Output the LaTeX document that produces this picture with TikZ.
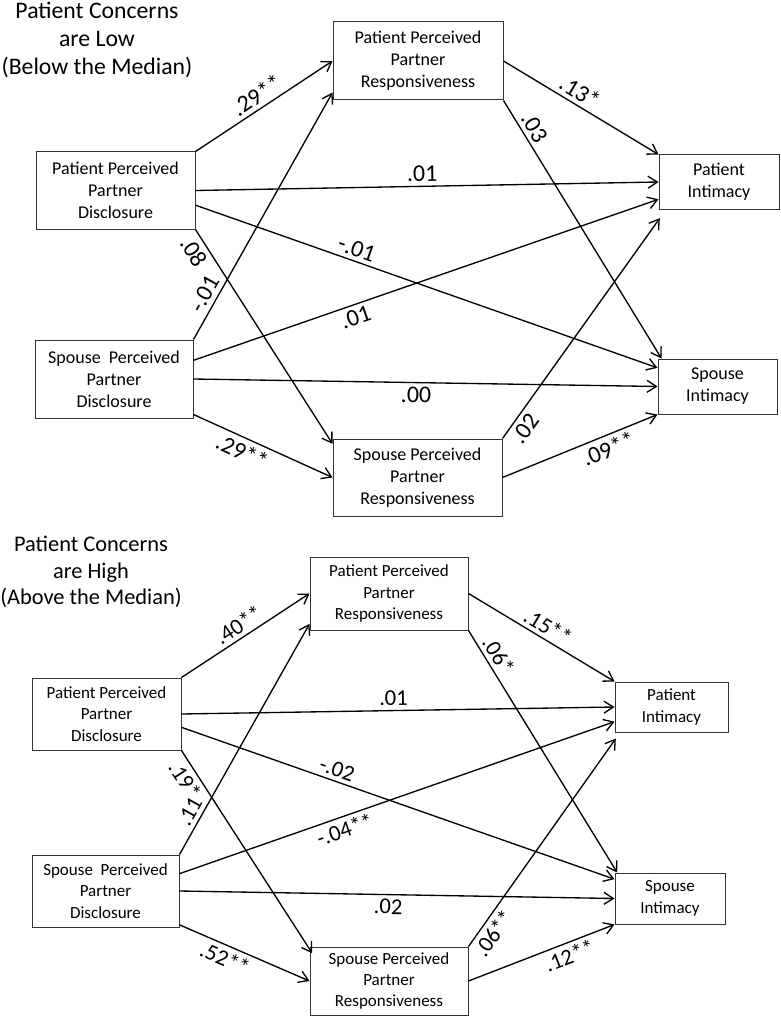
\documentclass[tikz,border=0pt]{standalone}
\usepackage{fontspec}
\setmainfont{Carlito}
\usetikzlibrary{arrows.meta}

\begin{document}
\begin{tikzpicture}[x=0.75pt,y=-0.75pt,
  box/.style={draw=black!80,line width=0.75pt,align=center,inner sep=0pt},
  topbox/.style={box,font=\fontsize{13.5}{16.5}\selectfont},
  lowbox/.style={box,font=\fontsize{12.75}{16}\selectfont},
  heading/.style={align=center,inner sep=0pt,font=\fontsize{17.8}{21}\selectfont},
  effect/.style={draw,line width=1pt,-{Straight Barb[length=7pt,width=9pt]}},
  coef/.style={sloped,inner sep=3pt,font=\fontsize{18}{18}\selectfont},
  coefb/.style={sloped,inner sep=3pt,font=\fontsize{17}{17}\selectfont}]
  \useasboundingbox (0,0) rectangle (781,1020);

  \node[heading] (lowtitle) at (97,40) {Patient Concerns\\are Low\\(Below the Median)};
  \node[topbox,minimum width=127.5pt,minimum height=58.5pt] (ppr1) at (418,61) {Patient Perceived\\Partner\\Responsiveness};
    \node[topbox,minimum width=119.25pt,minimum height=57.75pt] (ppd1) at (115.5,190.5) {Patient Perceived\\Partner\\Disclosure};
    \node[topbox,minimum width=90pt,minimum height=40.5pt] (pi1) at (719,182) {Patient\\Intimacy};
    \node[topbox,minimum width=118.5pt,minimum height=58.5pt] (spd1) at (114,379) {Spouse~~Perceived\\Partner\\Disclosure};
    \node[topbox,minimum width=126.75pt,minimum height=57.75pt] (spr1) at (417.5,477.5) {Spouse Perceived\\Partner\\Responsiveness};
    \node[topbox,minimum width=89.25pt,minimum height=41.25pt] (si1) at (717.5,386.5) {Spouse\\Intimacy};
    \draw[effect] (ppd1.north east) -- node[coef,above,pos=0.5] {.29**} (ppr1.west);
    \draw[effect] (spd1.north east) -- node[coef,above,pos=0.16] {-.01} ([yshift=6pt]ppr1.south west);
    \draw[effect] (ppd1.east) -- node[coef,above,pos=0.49] {.01} (pi1.west);
    \draw[effect] ([yshift=-11pt]ppd1.east) -- node[coef,above,pos=0.34] {-.01} ([yshift=-7pt]si1.north west);
    \draw[effect] (ppd1.south east) -- node[coef,below,pos=0.07] {.08} ([yshift=-4pt]spr1.north west);
    \draw[effect] ([yshift=14pt]spd1.east) -- node[coef,below,pos=0.34] {.01} ([yshift=-13pt]pi1.west);
    \draw[effect] (spd1.east) -- node[coef,below,pos=0.48] {.00} (si1.west);
    \draw[effect] ([yshift=3pt]spd1.south east) -- node[coef,below,pos=0.39] {.29**} (spr1.west);
    \draw[effect] (ppr1.east) -- node[coef,above,pos=0.45] {.13*} (pi1.north west);
    \draw[effect] (ppr1.south east) -- node[coef,above,pos=0.13] {.03} ([xshift=3pt]si1.north west);
    \draw[effect] (spr1.north east) -- node[coef,below,pos=0.08] {.02} ([shift={(1pt,-6.5pt)}]pi1.south west);
    \draw[effect] (spr1.east) -- node[coef,below,pos=0.65] {.09**} (si1.south west);

  \node[heading,font=\fontsize{16.8}{20}\selectfont] (hightitle) at (91,572) {Patient Concerns\\are High\\(Above the Median)};
  \node[lowbox,minimum width=118.5pt,minimum height=54.75pt] (ppr2) at (389,593.5) {Patient Perceived\\Partner\\Responsiveness};
    \node[lowbox,minimum width=111.75pt,minimum height=54pt] (ppd2) at (106.5,714) {Patient Perceived\\Partner\\Disclosure};
    \node[lowbox,minimum width=84.75pt,minimum height=37.5pt] (pi2) at (671.5,707) {Patient\\Intimacy};
    \node[lowbox,minimum width=110.25pt,minimum height=54pt] (spd2) at (105.5,891) {Spouse~~Perceived\\Partner\\Disclosure};
    \node[lowbox,minimum width=118.5pt,minimum height=51pt] (spr2) at (389,981) {Spouse Perceived\\Partner\\Responsiveness};
    \node[lowbox,minimum width=82.5pt,minimum height=38.25pt] (si2) at (670,898.5) {Spouse\\Intimacy};
    \draw[effect] (ppd2.north east) -- node[coefb,above,pos=0.5] {.40**} (ppr2.west);
    \draw[effect] (spd2.north east) -- node[coefb,above,pos=0.16] {.11} ([yshift=5pt]ppr2.south west);
    \draw[effect] (ppd2.east) -- node[coefb,above,pos=0.49] {.01} (pi2.west);
    \draw[effect] ([yshift=-10pt]ppd2.east) -- node[coefb,above,pos=0.35] {-.02} ([yshift=-5pt]si2.north west);
    \draw[effect] (ppd2.south east) -- node[coefb,below,pos=0.11] {.19*} ([shift={(2pt,-5pt)}]spr2.north west);
    \draw[effect] ([yshift=13pt]spd2.east) -- node[coefb,below,pos=0.37] {-.04**} ([yshift=-11pt]pi2.west);
    \draw[effect] (spd2.east) -- node[coefb,below,pos=0.48] {.02} (si2.west);
    \draw[effect] ([yshift=2pt]spd2.south east) -- node[coefb,below,pos=0.39] {.52**} (spr2.west);
    \draw[effect] (ppr2.east) -- node[coefb,above,pos=0.5] {.15**} (pi2.north west);
    \draw[effect] (ppr2.south east) -- node[coefb,above,pos=0.13] {.06*} ([xshift=2pt]si2.north west);
    \draw[effect] (spr2.north east) -- node[coefb,below,pos=0.1] {.06**} ([shift={(1pt,-4.5pt)}]pi2.south west);
    \draw[effect] (spr2.east) -- node[coefb,below,pos=0.66] {.12**} (si2.south west);
\end{tikzpicture}
\end{document}
